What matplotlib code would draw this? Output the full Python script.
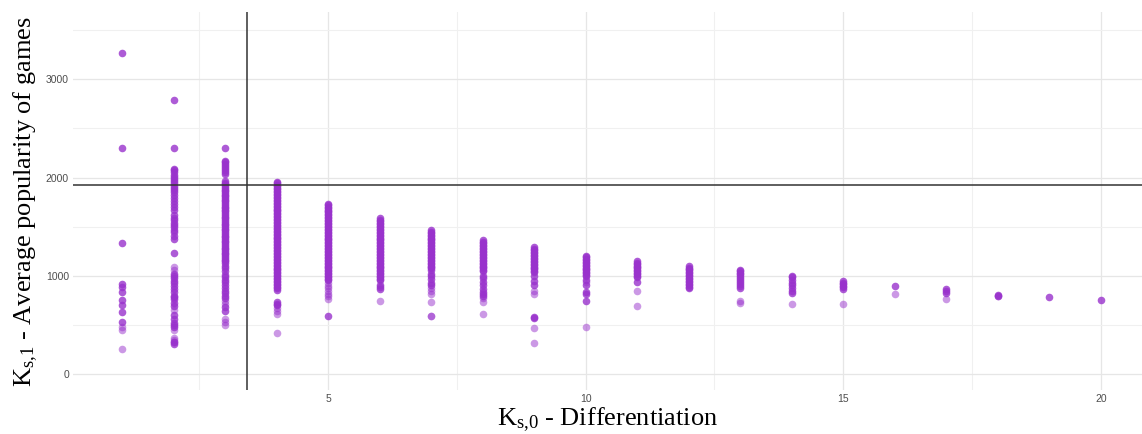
import numpy as np
import matplotlib
matplotlib.use("Agg")
import matplotlib.pyplot as plt
from matplotlib.ticker import MultipleLocator

plt.rcParams['mathtext.fontset'] = 'custom'
plt.rcParams['mathtext.rm'] = 'Liberation Serif'
plt.rcParams['mathtext.it'] = 'Liberation Serif:italic'

# K_s,0 values (x) and the average popularity read per column
ks0 = [1, 2, 3, 4, 5, 6, 7, 8, 9, 10, 11, 12, 13, 14, 15, 16, 17, 18, 19, 20]

pop_1 = [3270, 2300, 1335, 920, 890, 840, 750, 700, 635, 530]
pop_2 = [2785, 2305, 2090, 2072, 2055, 2030, 2008, 1985, 1962, 1940, 1918, 1896,
         1874, 1852, 1820, 1790, 1765, 1735, 1700, 1672, 1615, 1592, 1568, 1540,
         1515, 1495, 1470, 1442, 1410, 1380, 1235, 1020, 1000, 975, 950, 925,
         900, 870, 835, 800, 780, 760, 720, 695, 600, 565, 525, 500, 475, 325, 305]
pop_3 = [2305, 2170, 2155, 2138, 2120, 2100, 2082, 2060, 2040, 1962, 1945, 1930,
         1912, 1895, 1878, 1860, 1845, 1826, 1810, 1792, 1775, 1758, 1740, 1722,
         1705, 1690, 1672, 1655, 1636, 1620, 1602, 1585, 1568, 1550, 1532, 1515,
         1498, 1480, 1462, 1445, 1428, 1410, 1392, 1375, 1358, 1340, 1322, 1305,
         1288, 1270, 1252, 1235, 1218, 1200, 1182, 1165, 1148, 1130, 1105, 1075,
         1050, 1010, 985, 960, 935, 905, 880, 850, 830, 800, 775, 680, 640]
pop_4 = [1955, 1940, 1925, 1910, 1895, 1880, 1865, 1850, 1835, 1820, 1805, 1790,
         1775, 1760, 1745, 1730, 1715, 1700, 1685, 1670, 1655, 1640, 1625, 1610,
         1595, 1580, 1565, 1550, 1535, 1520, 1505, 1490, 1475, 1460, 1445, 1430,
         1415, 1400, 1385, 1370, 1355, 1340, 1325, 1310, 1295, 1280, 1265, 1250,
         1235, 1220, 1205, 1190, 1175, 1160, 1145, 1130, 1115, 1100, 1085, 1070,
         1055, 1040, 1025, 1010, 995, 980, 965, 950, 935, 920, 905, 890, 875,
         860, 735, 715, 700]
pop_5 = [1735, 1720, 1705, 1690, 1675, 1660, 1645, 1630, 1615, 1600, 1585, 1570,
         1555, 1540, 1525, 1510, 1495, 1480, 1465, 1450, 1435, 1420, 1405, 1390,
         1375, 1360, 1345, 1330, 1315, 1300, 1285, 1270, 1255, 1240, 1225, 1210,
         1195, 1180, 1165, 1150, 1135, 1120, 1105, 1090, 1075, 1060, 1045, 1030,
         1015, 1000, 985, 970, 955, 595]
pop_6 = [1585, 1570, 1555, 1540, 1525, 1510, 1495, 1480, 1465, 1450, 1435, 1420,
         1405, 1390, 1375, 1360, 1345, 1330, 1315, 1300, 1285, 1270, 1255, 1240,
         1225, 1210, 1195, 1180, 1165, 1150, 1135, 1120, 1105, 1090, 1075, 1060,
         1045, 1030, 1015, 1000, 985, 970, 955, 910, 885, 870]
pop_7 = [1465, 1450, 1435, 1420, 1405, 1390, 1375, 1360, 1345, 1330, 1315, 1300,
         1285, 1270, 1255, 1240, 1225, 1210, 1195, 1180, 1165, 1150, 1135, 1120,
         1105, 1090, 1075, 1060, 1020, 995, 965, 930, 905]
pop_8 = [1360, 1345, 1330, 1315, 1300, 1285, 1270, 1255, 1240, 1225, 1210, 1195,
         1180, 1165, 1150, 1135, 1120, 1105, 1090, 1075, 1060, 1045, 1000, 980,
         935, 905, 870, 840, 820, 800]
pop_9 = [1290, 1275, 1260, 1245, 1230, 1215, 1200, 1185, 1170, 1155, 1140, 1125,
         1110, 1095, 1080, 1065, 1050, 1040, 995, 945, 905, 585, 568]
pop_10 = [1205, 1190, 1175, 1160, 1145, 1130, 1115, 1100, 1085, 1070, 1055, 1040,
          1025, 1010, 995, 960, 905, 840, 815, 745]
pop_11 = [1150, 1135, 1120, 1105, 1090, 1075, 1060, 1045, 1030, 1015, 1000, 990, 940]
pop_12 = [1100, 1085, 1070, 1055, 1040, 1025, 1010, 995, 980, 965, 950, 935, 920,
          905, 890, 880]
pop_13 = [1060, 1045, 1030, 1015, 995, 975, 955, 935, 915, 895, 875]
pop_14 = [1000, 985, 960, 930, 905, 875, 850, 825]
pop_15 = [945, 930, 915, 900, 885, 870]
pop_16 = [900]
pop_17 = [865, 845, 830]
pop_18 = [810, 795]
pop_19 = [785]
pop_20 = [750]

# the paler, single points under the columns
light_x = [1, 1, 1, 2, 2, 2, 2, 2, 2, 2, 3, 3, 3, 3, 3, 4, 4, 4, 4,
           5, 5, 5, 5, 5, 5, 5, 6, 7, 7, 7, 7, 7, 7, 8, 8, 8,
           9, 9, 9, 9, 10, 10, 11, 11, 13, 13, 14, 15, 16, 17, 18]
light_y = [480, 450, 260, 1090, 1060, 650, 445, 370, 350, 330, 745, 715, 560, 530, 500,
           670, 640, 610, 420,
           930, 900, 875, 845, 820, 790, 760, 745, 875, 845, 820, 735, 595, 590,
           770, 735, 615,
           850, 820, 470, 318, 935, 480, 850, 690, 745, 725, 710, 710, 815, 760, 790]

ks1_threshold = 1922
ks0_threshold = 3.43

purple = '#9932CC'

fig = plt.figure(figsize=(11.42, 4.34), dpi=100)
ax = fig.add_axes([0.064, 0.101, 0.936, 0.871])

columns = [pop_1, pop_2, pop_3, pop_4, pop_5, pop_6, pop_7, pop_8, pop_9, pop_10,
           pop_11, pop_12, pop_13, pop_14, pop_15, pop_16, pop_17, pop_18, pop_19, pop_20]
for k, vals in zip(ks0, columns):
    ax.scatter([k] * len(vals), vals, s=30, color=purple, alpha=0.8,
               linewidths=0, zorder=3)
ax.scatter(light_x, light_y, s=30, color=purple, alpha=0.5, linewidths=0, zorder=3)

ax.axhline(ks1_threshold, color='#333333', lw=1.1, zorder=4)
ax.axvline(ks0_threshold, color='#333333', lw=1.1, zorder=4)

ax.set_xlim(0.05, 20.8)
ax.set_ylim(-163, 3683)
ax.xaxis.set_major_locator(MultipleLocator(5))
ax.xaxis.set_minor_locator(MultipleLocator(2.5))
ax.yaxis.set_major_locator(MultipleLocator(1000))
ax.yaxis.set_minor_locator(MultipleLocator(500))

ax.grid(which='major', color='#e6e6e6', lw=0.9, zorder=0)
ax.grid(which='minor', color='#f0f0f0', lw=0.8, zorder=0)
for s in ax.spines.values():
    s.set_visible(False)
ax.tick_params(which='both', length=0, labelsize=7.5, labelcolor='#4d4d4d', pad=3)
for lab in ax.get_xticklabels() + ax.get_yticklabels():
    lab.set_family('Liberation Sans')

ax.set_xlabel(r'$\mathrm{K}_{\mathrm{s{,}0}}$ - Differentiation',
              family='Liberation Serif', fontsize=19, labelpad=1)
ax.set_ylabel(r'$\mathrm{K}_{\mathrm{s{,}1}}$ - Average popularity of games',
              family='Liberation Serif', fontsize=19, labelpad=4)

fig.savefig('out.png', dpi=100)
